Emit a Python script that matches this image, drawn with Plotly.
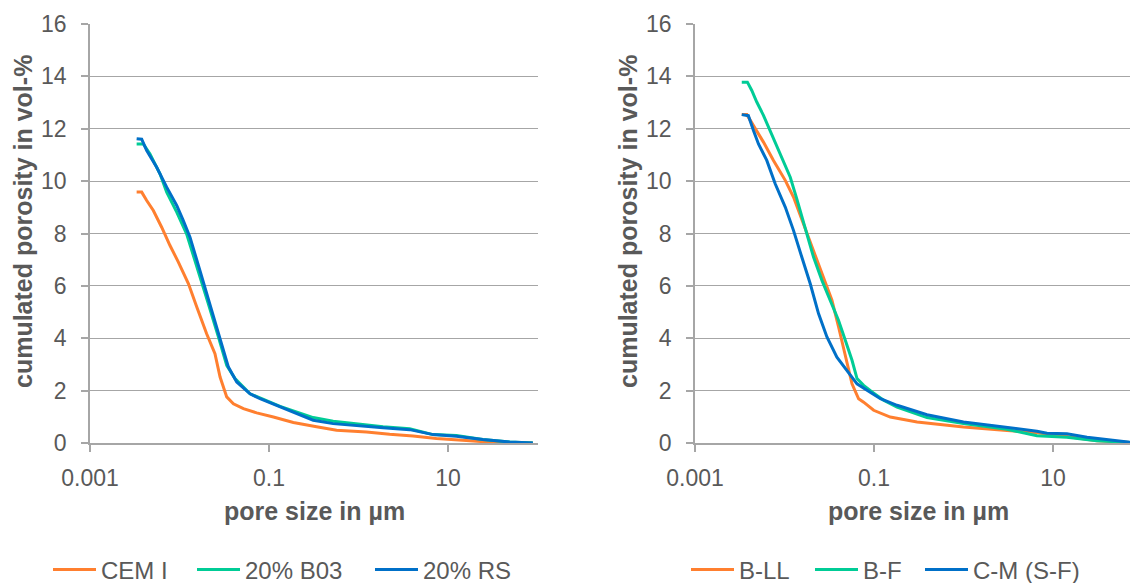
import plotly.graph_objects as go

# ---------------- data (pore size in µm, cumulated porosity in vol-%) ----------------
cem1_x = [0.00332, 0.00378, 0.00430, 0.00510, 0.00632, 0.00783, 0.00971, 0.0126, 0.0156, 0.0201,
          0.0249, 0.0284, 0.0337, 0.0400, 0.0518, 0.0729, 0.112, 0.187, 0.340, 0.569, 1.23, 2.23,
          4.07, 7.41, 16.0, 34.6, 88.7]
cem1_y = [9.58, 9.58, 9.26, 8.88, 8.24, 7.54, 6.91, 6.08, 5.19, 4.17, 3.41, 2.52, 1.76, 1.50, 1.31,
          1.15, 0.99, 0.78, 0.62, 0.49, 0.42, 0.33, 0.27, 0.17, 0.10, 0.01, 0.0]

b03_x = [0.00332, 0.00394, 0.00468, 0.00605, 0.00719, 0.00931, 0.0120, 0.0162, 0.0210, 0.0272,
         0.0337, 0.0417, 0.0614, 0.133, 0.222, 0.312, 0.521, 1.04, 1.88, 3.73, 6.81, 12.4, 24.5,
         48.8, 88.7]
b03_y = [11.42, 11.42, 11.04, 10.28, 9.58, 8.82, 7.99, 6.59, 5.32, 4.05, 2.96, 2.46, 1.88, 1.40,
         1.13, 0.97, 0.83, 0.71, 0.62, 0.54, 0.32, 0.29, 0.13, 0.04, 0.0]

rs_x = [0.00332, 0.00378, 0.00430, 0.00556, 0.00719, 0.00931, 0.0110, 0.0131, 0.0169, 0.0219,
        0.0284, 0.0352, 0.0436, 0.0614, 0.0794, 0.133, 0.222, 0.312, 0.521, 1.04, 1.88, 3.73,
        6.81, 12.4, 24.5, 48.8, 88.7]
rs_y = [11.62, 11.60, 11.17, 10.53, 9.77, 9.07, 8.50, 7.86, 6.59, 5.32, 4.05, 2.90, 2.33, 1.88,
        1.69, 1.37, 1.06, 0.87, 0.74, 0.64, 0.58, 0.51, 0.32, 0.26, 0.13, 0.04, 0.0]

bll_x = [0.00333, 0.00380, 0.00450, 0.00582, 0.00753, 0.0102, 0.0126, 0.0163, 0.0211, 0.0274,
         0.0339, 0.0402, 0.0478, 0.0568, 0.0673, 0.0766, 0.0991, 0.152, 0.303, 1.00, 3.06, 6.62,
         14.3, 30.9, 87.1]
bll_y = [12.54, 12.54, 12.12, 11.49, 10.79, 10.03, 9.39, 8.37, 7.35, 6.34, 5.45, 4.43, 3.28, 2.26,
         1.69, 1.56, 1.25, 0.99, 0.80, 0.61, 0.48, 0.39, 0.25, 0.09, 0.0]

bf_x = [0.00333, 0.00385, 0.00431, 0.00490, 0.00582, 0.00692, 0.00820, 0.00975, 0.0116, 0.0137,
        0.0170, 0.0211, 0.0262, 0.0324, 0.0402, 0.0478, 0.0568, 0.0646, 0.0766, 0.0951, 0.128,
        0.181, 0.303, 0.391, 1.00, 3.06, 6.62, 14.3, 30.9, 87.1]
bf_y = [13.78, 13.78, 13.46, 13.02, 12.51, 11.93, 11.36, 10.79, 10.15, 9.33, 8.24, 7.10, 6.21,
        5.45, 4.68, 3.92, 3.16, 2.46, 2.20, 1.95, 1.63, 1.37, 1.12, 0.97, 0.74, 0.52, 0.28, 0.22,
        0.09, 0.0]

cm_x = [0.00333, 0.00395, 0.00450, 0.00512, 0.00634, 0.00787, 0.0102, 0.0126, 0.0156, 0.0194,
        0.0240, 0.0298, 0.0385, 0.0499, 0.0646, 0.0836, 0.118, 0.181, 0.303, 0.391, 1.00, 3.06,
        6.62, 8.57, 14.3, 24.0, 47.6, 87.1]
cm_y = [12.54, 12.50, 11.93, 11.42, 10.79, 9.90, 9.01, 8.12, 7.10, 6.08, 4.94, 4.05, 3.28, 2.77,
        2.26, 2.01, 1.69, 1.44, 1.18, 1.08, 0.80, 0.58, 0.45, 0.37, 0.35, 0.22, 0.09, 0.0]

x_tickvals = [0.001, 0.1, 10]
x_ticktext = ["0.001", "0.1", "10"]
y_tickvals = [0, 2, 4, 6, 8, 10, 12, 14, 16]

# ---------------- styling ----------------
PAGE_W, PAGE_H = 1138, 583
OFF = 8                      # default <body> margin of the html page
W, H = PAGE_W - OFF, PAGE_H + 10  # extra height so the legends fit without pushing margins
ORANGE = "#FF7F2F"
GREEN = "#00CC96"
BLUE = "#0070C8"
TXT = "#595959"
GRID = "#A6A6A6"
AX = "#A6A6A6"
FONT = "Liberation Sans, Arial, sans-serif"


def px_x(p):
    """page pixel -> figure fraction"""
    return (p - OFF) / W


def px_y(p):
    return 1 - (p - OFF) / H


fig = go.Figure()

# (x, y, name, colour, xaxis, yaxis, legend id, legend line start px)
series = [
    (cem1_x, cem1_y, "CEM I", ORANGE, "x", "y", "legend", 53),
    (b03_x, b03_y, "20% B03", GREEN, "x", "y", "legend2", 197),
    (rs_x, rs_y, "20% RS", BLUE, "x", "y", "legend3", 375),
    (bll_x, bll_y, "B-LL", ORANGE, "x2", "y2", "legend4", 691),
    (bf_x, bf_y, "B-F", GREEN, "x2", "y2", "legend5", 815),
    (cm_x, cm_y, "C-M (S-F)", BLUE, "x2", "y2", "legend6", 925),
]
legend_layouts = {}
for xs, ys, name, col, xa, ya, lg, lx in series:
    fig.add_trace(go.Scatter(x=xs, y=ys, name=name, mode="lines", showlegend=True,
                             line=dict(color=col, width=3), xaxis=xa, yaxis=ya,
                             legend=lg))
    legend_layouts[lg] = dict(x=px_x(lx - 5), y=px_y(570), xanchor="left", yanchor="middle",
                              visible=True,
                              font=dict(family=FONT, size=24, color=TXT),
                              bgcolor="rgba(0,0,0,0)", itemwidth=43, borderwidth=0)

ydom = [px_y(443), px_y(24)]

xaxis_common = dict(type="log", tickvals=x_tickvals, ticktext=x_ticktext, automargin=False,
                    showgrid=False, zeroline=False, showline=True, linecolor=AX, linewidth=2,
                    ticks="outside", ticklen=7, tickcolor=AX, tickwidth=1.5,
                    tickfont=dict(family=FONT, size=23, color=TXT), ticklabelstandoff=6)
yaxis_common = dict(range=[0, 16], tickvals=y_tickvals, showgrid=True, gridcolor=GRID,
                    gridwidth=1, zeroline=False, showline=True, linecolor=AX, linewidth=1.5,
                    ticks="outside", ticklen=7, tickcolor=AX, tickwidth=1.5, automargin=False,
                    tickfont=dict(family=FONT, size=23, color=TXT), ticklabelstandoff=10)

fig.update_layout(
    template="none",
    width=W, height=H, autosize=False, showlegend=True,
    margin=dict(l=0, r=0, t=0, b=0, pad=0),
    paper_bgcolor="white", plot_bgcolor="white",
    font=dict(family=FONT, color=TXT),
    xaxis=dict(domain=[px_x(90), px_x(537.5)], range=[-3, 2], anchor="y", **xaxis_common),
    yaxis=dict(domain=ydom, anchor="x", **yaxis_common),
    xaxis2=dict(domain=[px_x(695), 1.0], range=[-3, 1.95], anchor="y2", **xaxis_common),
    yaxis2=dict(domain=ydom, anchor="x2", **yaxis_common),
    **legend_layouts,
)

title_font = dict(family=FONT, size=25, color=TXT, weight="bold")
for cx in (314, 918):
    fig.add_annotation(text="pore size in µm", x=px_x(cx), y=px_y(511), xref="paper",
                       yref="paper", showarrow=False, font=title_font,
                       xanchor="center", yanchor="middle")
for cx in (23, 628):
    fig.add_annotation(text="cumulated porosity in vol-%", x=px_x(cx), y=px_y(222),
                       xref="paper", yref="paper", showarrow=False, font=title_font,
                       textangle=-90, xanchor="center", yanchor="middle")

fig.write_html("out.html")
